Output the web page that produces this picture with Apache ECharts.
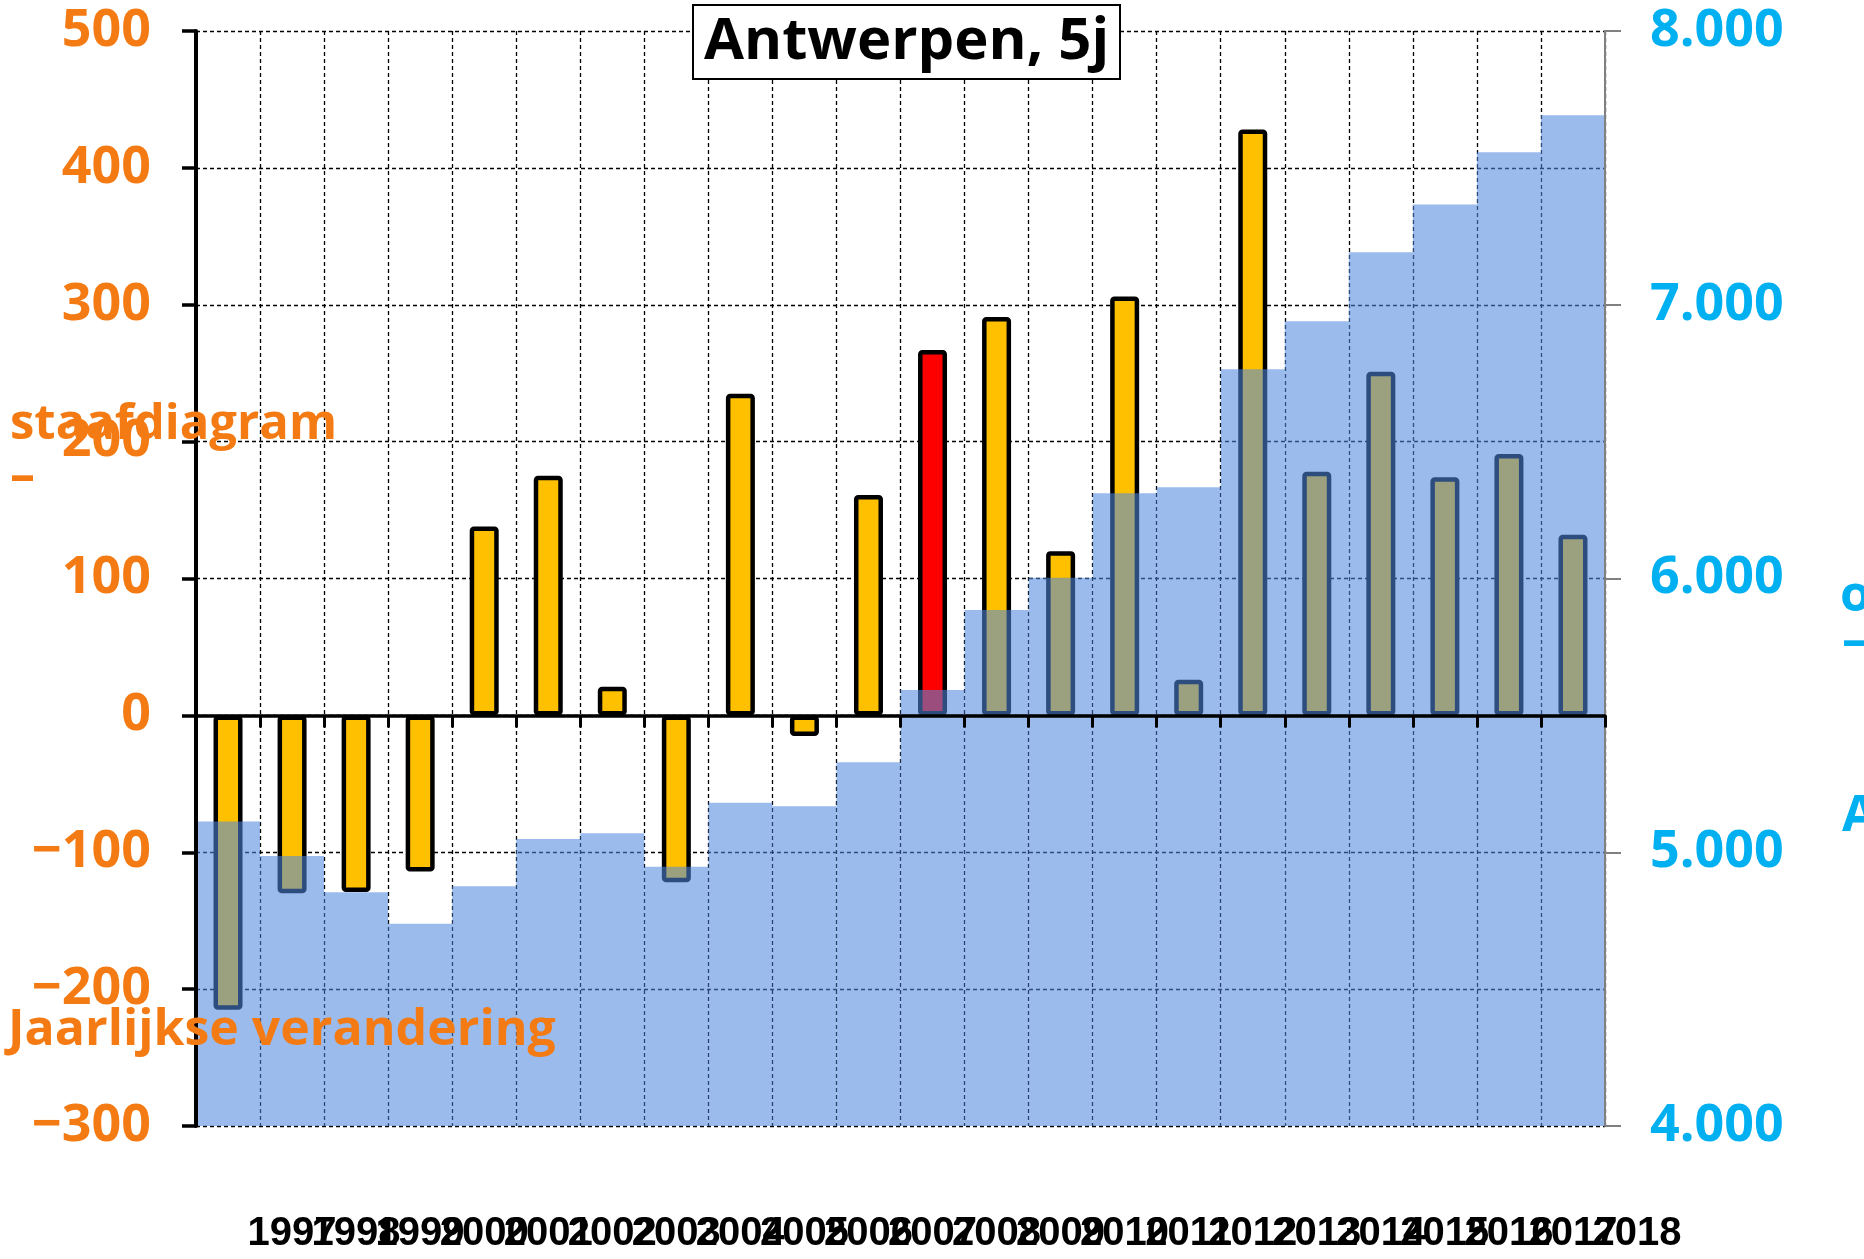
<!DOCTYPE html>
<html><head><meta charset="utf-8">
<script src="https://cdn.jsdelivr.net/npm/echarts@6/dist/echarts.min.js"></script>
<style>html,body{margin:0;padding:0;background:#fff}#c{width:1864px;height:1259px}</style>
</head><body><div id="c"></div>
<script>
// ---- data ----
const years = ['1997','1998','1999','2000','2001','2002','2003','2004','2005','2006','2007',
               '2008','2009','2010','2011','2012','2013','2014','2015','2016','2017','2018'];
const change = [-215,-130,-129,-114,138,175,21,-122,235,-15,161,
                267,291,120,306,26,428,178,251,174,191,132];
const total = [5112,4986,4854,4739,4876,5048,5069,4947,5181,5168,5329,
               5593,5885,6003,6311,6333,6764,6940,7192,7366,7557,7692];
const highlightIndex = 11;
const leftTicks = [-300,-200,-100,0,100,200,300,400,500];
const rightTicks = [4000,5000,6000,7000,8000];
const titleText = 'Antwerpen, 5j';
const leftNames = ['staafdiagram', '–', 'Jaarlijkse verandering'];
const rightNames = ['o', '–', 'A'];

// ---- style ----
const FONT = '"Open Sans", "Liberation Sans", Arial, sans-serif';
const ORANGE = '#F47B14';
const CYAN = '#00B0F0';
const YELLOW = '#FFC000';
const RED = '#FF0000';
const BLUE = 'rgba(80,136,221,0.57)';

const chart = echarts.init(document.getElementById('c'));
const gridDash = { color: '#000', width: 1.3, type: [4, 3] };
const option = {
  animation: false,
  backgroundColor: '#fff',
  title: {
    text: titleText, left: 693, top: 5, padding: [6, 11],
    borderColor: '#000', borderWidth: 2, backgroundColor: '#fff',
    textStyle: { fontSize: 58, fontWeight: 'bold', color: '#000', fontFamily: FONT, lineHeight: 62 }
  },
  grid: { left: 196, right: 259, top: 31, bottom: 133, containLabel: false, outerBoundsMode: 'none' },
  xAxis: [
    {
      type: 'category', data: years, position: 'top', z: 5,
      axisLine: { show: true, onZero: true, onZeroAxisIndex: 0, lineStyle: { color: '#000', width: 3.5 } },
      axisTick: { show: true, inside: true, length: 12, lineStyle: { color: '#000', width: 3 } },
      splitLine: { show: false },
      axisLabel: { show: false }
    },
    {
      type: 'category', data: years, position: 'bottom', z: 0,
      axisLine: { show: false, onZero: false }, axisTick: { show: false },
      axisLabel: {
        show: true, interval: 0, margin: 88, fontSize: 40, fontWeight: 'bold', color: '#000',
        fontFamily: '"Liberation Sans", Arial, sans-serif', padding: [0, 0, 0, 128], hideOverlap: false
      },
      splitLine: { show: true, lineStyle: gridDash }
    }
  ],
  yAxis: [
    {
      type: 'value', position: 'left', min: leftTicks[0], max: leftTicks[leftTicks.length - 1],
      interval: leftTicks[1] - leftTicks[0], z: 5,
      axisLine: { show: true, lineStyle: { color: '#000', width: 4 } },
      axisTick: { show: true, length: 14, lineStyle: { color: '#000', width: 3.5 } },
      splitLine: { show: false },
      axisLabel: {
        margin: 45, fontSize: 52, fontWeight: 'bold', color: ORANGE, fontFamily: FONT,
        formatter: v => v < 0 ? '\u2212' + (-v) : String(v)
      }
    },
    {
      type: 'value', position: 'right', min: rightTicks[0], max: rightTicks[rightTicks.length - 1],
      interval: rightTicks[1] - rightTicks[0], startValue: rightTicks[0], z: 5,
      axisLine: { show: true, lineStyle: { color: '#808080', width: 2 } },
      axisTick: { show: true, length: 16, lineStyle: { color: '#808080', width: 2 } },
      splitLine: { show: false },
      axisLabel: {
        margin: 45, fontSize: 52, fontWeight: 'bold', color: CYAN, fontFamily: FONT,
        formatter: v => (v / 1000) + '.000'
      }
    },
    {
      type: 'value', position: 'left', min: leftTicks[0], max: leftTicks[leftTicks.length - 1],
      interval: leftTicks[1] - leftTicks[0], z: 0,
      axisLine: { show: false }, axisTick: { show: false }, axisLabel: { show: false },
      splitLine: { show: true, lineStyle: gridDash }
    }
  ],
  series: [
    {
      type: 'bar', xAxisIndex: 0, yAxisIndex: 0, z: 2, barWidth: 29,
      data: change.map((v, i) => i === highlightIndex ? { value: v, itemStyle: { color: RED } } : v),
      itemStyle: { color: YELLOW, borderColor: '#000', borderWidth: 4.5, borderRadius: 2 }
    },
    {
      type: 'bar', xAxisIndex: 1, yAxisIndex: 1, z: 3, barWidth: '100%', barCategoryGap: 0,
      clip: true, data: total, itemStyle: { color: BLUE }
    }
  ],
  graphic: [
    { type: 'text', x: 10, y: 425, z: 100, style: { text: leftNames[0], font: 'bold 49px ' + FONT, fill: ORANGE, verticalAlign: 'middle' } },
    { type: 'text', x: 10, y: 478, z: 100, style: { text: leftNames[1], font: 'bold 50px ' + FONT, fill: ORANGE, verticalAlign: 'middle' } },
    { type: 'text', x: 8, y: 1031, z: 100, style: { text: leftNames[2], font: 'bold 50px ' + FONT, fill: ORANGE, verticalAlign: 'middle' } },
    { type: 'text', x: 1840, y: 597, z: 100, style: { text: rightNames[0], font: 'bold 50px ' + FONT, fill: CYAN, verticalAlign: 'middle' } },
    { type: 'text', x: 1842, y: 643, z: 100, style: { text: rightNames[1], font: 'bold 50px ' + FONT, fill: CYAN, verticalAlign: 'middle' } },
    { type: 'text', x: 1842, y: 817, z: 100, style: { text: rightNames[2], font: 'bold 50px ' + FONT, fill: CYAN, verticalAlign: 'middle' } }
  ]
};
chart.setOption(option);
</script>
</body></html>
